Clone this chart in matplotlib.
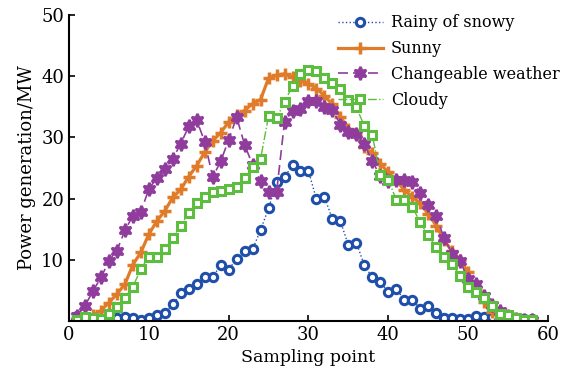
import matplotlib.pyplot as plt
import numpy as np

# sampling points 1..58
x = np.arange(1, 59)

rainy = [0.8, 0.4, 0.2, 0.3, 0.3, 0.4, 0.6, 0.5, 0.1, 0.4,
         0.9, 1.3, 2.7, 4.5, 5.3, 6.0, 7.1, 7.2, 9.1, 8.4,
         10.2, 11.4, 11.7, 14.9, 18.4, 22.7, 23.5, 25.5, 24.5, 24.5,
         19.9, 20.3, 16.6, 16.3, 12.4, 12.8, 9.1, 7.1, 6.4, 4.7,
         5.3, 3.4, 3.5, 2.0, 2.4, 1.3, 0.4, 0.4, 0.3, 0.3,
         0.8, 0.7, 0.7, 0.4, 0.4, 0.3, 0.3, 0.3]

sunny = [0.3, 0.5, 0.9, 1.7, 3.0, 4.4, 6.0, 9.2, 11.2, 14.2,
         16.3, 18.0, 20.2, 21.5, 23.6, 25.4, 27.6, 29.4, 30.8, 32.5,
         33.7, 34.4, 35.5, 36.2, 39.7, 40.2, 40.4, 39.9, 39.3, 38.8,
         38.0, 36.8, 35.4, 33.4, 31.4, 30.6, 28.4, 27.4, 25.7, 24.3,
         23.0, 21.4, 20.3, 19.2, 17.5, 15.6, 13.2, 11.4, 9.9, 8.0,
         5.0, 3.1, 1.5, 0.3, 0.0, 0.2, 0.2, 0.2]

changeable = [0.8, 2.5, 4.9, 7.1, 9.8, 11.5, 14.8, 17.2, 17.8, 21.6,
              23.3, 24.8, 26.5, 29.0, 31.8, 32.8, 29.3, 23.5, 26.1, 29.6,
              33.3, 28.8, 25.5, 22.8, 21.0, 21.0, 32.6, 34.3, 34.6, 36.0,
              36.0, 34.9, 34.5, 32.1, 30.9, 30.6, 28.9, 26.1, 23.7, 22.8,
              23.0, 23.1, 22.7, 20.9, 19.0, 17.2, 13.5, 11.0, 9.8, 6.8,
              6.1, 4.1, 2.6, 1.6, 0.8, 0.3, 0.2, 0.2]

cloudy = [0.2, 0.6, 0.5, 0.3, 1.1, 2.3, 3.8, 5.6, 8.5, 10.5,
          10.5, 11.7, 13.6, 15.6, 17.7, 19.3, 20.3, 21.1, 21.3, 21.6,
          21.9, 23.3, 25.1, 26.5, 33.5, 33.1, 35.8, 38.4, 40.3, 41.0,
          40.9, 39.7, 38.9, 37.9, 36.2, 34.9, 31.9, 30.4, 23.8, 23.1,
          19.8, 19.8, 18.7, 16.1, 14.0, 12.1, 10.4, 9.3, 7.4, 5.5,
          4.8, 3.8, 2.5, 1.2, 0.9, 0.4, 0.2, 0.2]

labels = ["Rainy of snowy", "Sunny", "Changeable weather", "Cloudy"]

plt.rcParams['font.family'] = ['DejaVu Serif']

fig = plt.figure(figsize=(5.66, 3.78), dpi=100)
ax = fig.add_axes([0.122, 0.151, 0.846, 0.809])

blue = '#1f4faa'
orange = '#e07b2a'
purple = '#8f3c9c'
green = '#5dbd3f'

ax.plot(x, rainy, linestyle=':', color=blue, linewidth=1.0,
        marker='o', markersize=6, markerfacecolor='white',
        markeredgecolor=blue, markeredgewidth=2.2, label=labels[0])
ax.plot(x, sunny, linestyle='-', color=orange, linewidth=2.3,
        marker='+', markersize=8.5, markeredgewidth=2.5,
        markeredgecolor=orange, label=labels[1])
ax.plot(x, changeable, linestyle=(0, (6, 3)), color=purple, linewidth=1.2,
        marker=(6, 1, 0), markersize=9.5, markerfacecolor=purple,
        markeredgecolor=purple, markeredgewidth=1.8, label=labels[2])
ax.plot(x, cloudy, linestyle='-.', color=green, linewidth=1.0,
        marker='s', markersize=5.5, markerfacecolor='white',
        markeredgecolor=green, markeredgewidth=2.2, label=labels[3])

ax.set_xlim(0, 60)
ax.set_ylim(0, 50)
ax.set_xticks([0, 10, 20, 30, 40, 50, 60])
ax.set_yticks([10, 20, 30, 40, 50])
ax.tick_params(direction='in', length=4, width=1.2, labelsize=13)
ax.spines['top'].set_visible(False)
ax.spines['right'].set_visible(False)
ax.spines['left'].set_linewidth(1.5)
ax.spines['bottom'].set_linewidth(1.5)

ax.set_xlabel("Sampling point", fontsize=12.5)
ax.set_ylabel("Power generation/MW", fontsize=13)

ax.legend(loc='upper left', bbox_to_anchor=(0.572, 1.0),
          bbox_transform=fig.transFigure, frameon=False,
          fontsize=11.5, handlelength=2.8, labelspacing=0.55,
          handletextpad=0.5)

fig.savefig('out.png', dpi=100)
